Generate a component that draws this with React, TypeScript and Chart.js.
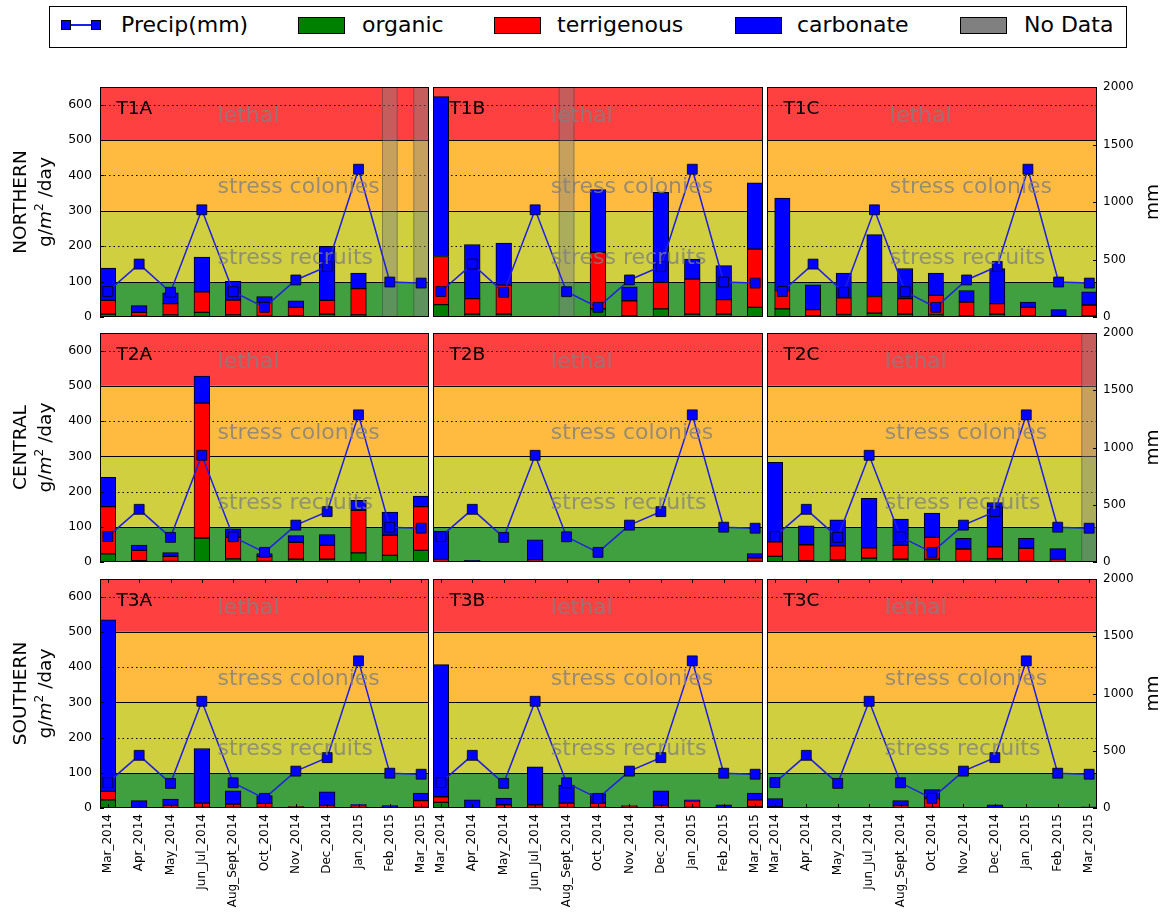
import React, { useEffect, useRef } from 'react';
import { Chart, registerables } from 'chart.js';

Chart.register(...registerables);
Chart.defaults.font.family = '"DejaVu Sans", sans-serif';

// ---------------- DATA ----------------
const categories = ['Mar_2014', 'Apr_2014', 'May_2014', 'Jun_Jul_2014', 'Aug_Sept_2014', 'Oct_2014', 'Nov_2014', 'Dec_2014', 'Jan_2015', 'Feb_2015', 'Mar_2015'];
const precipMm = [222, 460, 215, 932, 220, 84, 322, 440, 1285, 304, 295];

const t1aOrganic = [8, 2, 6, 13, 6, 2, 3, 8, 6, 0, 0];
const t1aTerrigenous = [39, 11, 32, 58, 42, 39, 24, 39, 74, 0, 0];
const t1aCarbonate = [91, 19, 30, 98, 53, 17, 19, 153, 44, 0, 0];
const t1aNoData = ['Feb_2015', 'Mar_2015'];

const t1bOrganic = [35, 8, 8, 2, 0, 23, 3, 23, 8, 8, 27];
const t1bTerrigenous = [136, 44, 82, 0, 0, 160, 43, 75, 99, 41, 165];
const t1bCarbonate = [452, 153, 119, 0, 0, 177, 39, 254, 57, 96, 187];
const t1bNoData = ['Aug_Sept_2014'];

const t1cOrganic = [23, 3, 7, 11, 8, 7, 2, 8, 2, 1, 3];
const t1cTerrigenous = [52, 18, 47, 47, 44, 54, 40, 30, 25, 1, 31];
const t1cCarbonate = [261, 70, 70, 175, 85, 63, 33, 99, 15, 19, 37];
const t1cNoData: string[] = [];

const t2aOrganic = [23, 4, 2, 68, 9, 2, 8, 8, 26, 19, 33];
const t2aTerrigenous = [134, 29, 14, 383, 61, 14, 48, 39, 121, 57, 124];
const t2aCarbonate = [83, 15, 11, 77, 24, 8, 19, 31, 28, 66, 30];
const t2aNoData: string[] = [];

const t2bOrganic = [1, 0, 0, 1, 0, 0, 1, 0, 0, 0, 2];
const t2bTerrigenous = [6, 0, 0, 4, 0, 0, 0, 0, 0, 0, 10];
const t2bCarbonate = [80, 5, 0, 58, 0, 0, 0, 0, 0, 0, 12];
const t2bNoData: string[] = [];

const t2cOrganic = [16, 3, 5, 11, 8, 8, 2, 9, 2, 1, 0];
const t2cTerrigenous = [41, 46, 41, 29, 39, 62, 35, 34, 37, 6, 0];
const t2cCarbonate = [226, 54, 74, 141, 75, 69, 30, 126, 28, 31, 0];
const t2cNoData = ['Mar_2015'];

const t3aOrganic = [23, 0, 1, 2, 2, 2, 3, 1, 2, 0, 2];
const t3aTerrigenous = [24, 0, 6, 12, 9, 11, 1, 6, 7, 1, 19];
const t3aCarbonate = [487, 21, 18, 155, 38, 22, 0, 39, 1, 6, 21];
const t3aNoData: string[] = [];

const t3bOrganic = [16, 0, 1, 2, 2, 2, 3, 1, 2, 0, 3];
const t3bTerrigenous = [16, 0, 8, 7, 12, 12, 2, 6, 18, 1, 20];
const t3bCarbonate = [375, 23, 19, 108, 51, 27, 2, 42, 3, 8, 19];
const t3bNoData: string[] = [];

const t3cOrganic = [3, 0, 0, 0, 1, 2, 0, 1, 0, 0, 1];
const t3cTerrigenous = [0, 0, 0, 0, 6, 25, 0, 0, 0, 0, 1];
const t3cCarbonate = [24, 1, 0, 1, 14, 25, 1, 8, 0, 0, 1];
const t3cNoData: string[] = [];

const regionNames = ['NORTHERN', 'CENTRAL', 'SOUTHERN'];
const zoneEdges = [0, 100, 300, 500, 650];
const zoneNames = ['stress recruits', 'stress colonies', 'lethal'];
const zoneNameY = [150, 350, 550];
const leftTicks = [0, 100, 200, 300, 400, 500, 600];
const rightTicks = [0, 500, 1000, 1500, 2000];

// ---------------- STYLE / LAYOUT ----------------
const FONT = '"DejaVu Sans", sans-serif';
const zoneColors = ['rgb(64,160,64)', 'rgb(207,207,64)', 'rgb(255,187,64)', 'rgb(255,64,64)'];
const plotLefts = [100, 433, 767];
const plotRights = [429, 763, 1097];
const plotTops = [87, 333, 579];
const plotBottoms = [317, 562, 808];
const PAD = 12;

type PanelSpec = {
  name: string; row: number; col: number;
  organic: number[]; terrigenous: number[]; carbonate: number[];
  noData: string[]; xMin: number;
};

const panels: PanelSpec[] = [
  { name: 'T1A', row: 0, col: 0, organic: t1aOrganic, terrigenous: t1aTerrigenous, carbonate: t1aCarbonate, noData: t1aNoData, xMin: -0.25 },
  { name: 'T1B', row: 0, col: 1, organic: t1bOrganic, terrigenous: t1bTerrigenous, carbonate: t1bCarbonate, noData: t1bNoData, xMin: -0.25 },
  { name: 'T1C', row: 0, col: 2, organic: t1cOrganic, terrigenous: t1cTerrigenous, carbonate: t1cCarbonate, noData: t1cNoData, xMin: -0.5 },
  { name: 'T2A', row: 1, col: 0, organic: t2aOrganic, terrigenous: t2aTerrigenous, carbonate: t2aCarbonate, noData: t2aNoData, xMin: -0.25 },
  { name: 'T2B', row: 1, col: 1, organic: t2bOrganic, terrigenous: t2bTerrigenous, carbonate: t2bCarbonate, noData: t2bNoData, xMin: -0.25 },
  { name: 'T2C', row: 1, col: 2, organic: t2cOrganic, terrigenous: t2cTerrigenous, carbonate: t2cCarbonate, noData: t2cNoData, xMin: -0.25 },
  { name: 'T3A', row: 2, col: 0, organic: t3aOrganic, terrigenous: t3aTerrigenous, carbonate: t3aCarbonate, noData: t3aNoData, xMin: -0.25 },
  { name: 'T3B', row: 2, col: 1, organic: t3bOrganic, terrigenous: t3bTerrigenous, carbonate: t3bCarbonate, noData: t3bNoData, xMin: -0.25 },
  { name: 'T3C', row: 2, col: 2, organic: t3cOrganic, terrigenous: t3cTerrigenous, carbonate: t3cCarbonate, noData: t3cNoData, xMin: -0.25 },
];

function drawRotated(ctx: CanvasRenderingContext2D, cx: number, cy: number, parts: { t: string; f: string; dy: number }[]) {
  ctx.save();
  ctx.translate(cx, cy);
  ctx.rotate(-Math.PI / 2);
  ctx.fillStyle = '#000';
  ctx.textBaseline = 'alphabetic';
  ctx.textAlign = 'left';
  let total = 0;
  for (const p of parts) { ctx.font = p.f; total += ctx.measureText(p.t).width; }
  let xx = -total / 2;
  for (const p of parts) { ctx.font = p.f; ctx.fillText(p.t, xx, p.dy); xx += ctx.measureText(p.t).width; }
  ctx.restore();
}

function Panel({ spec }: { spec: PanelSpec }) {
  const ref = useRef<HTMLCanvasElement | null>(null);
  const { row, col } = spec;
  const left = col === 0 ? 0 : plotLefts[col];
  const right = col === 2 ? 1162 : plotRights[col];
  const top = plotTops[row] - PAD;
  const bottom = row === 2 ? 915 : plotBottoms[row] + PAD;
  const w = right - left;
  const h = bottom - top;

  useEffect(() => {
    if (!ref.current) return;
    const xMax = 10.25;
    const plotW = plotRights[col] - plotLefts[col];
    const barPx = 0.5 * plotW / (xMax - spec.xMin);

    const deco = {
      id: 'deco' + spec.name,
      beforeDatasetsDraw(chart: any) {
        const { ctx, chartArea: a } = chart;
        const xs = chart.scales.x, ys = chart.scales.y;
        ctx.save();
        ctx.beginPath();
        ctx.rect(a.left, a.top, a.right - a.left, a.bottom - a.top);
        ctx.clip();
        for (let i = 0; i < 4; i++) {
          const y1 = ys.getPixelForValue(zoneEdges[i + 1]);
          const y0 = ys.getPixelForValue(zoneEdges[i]);
          ctx.fillStyle = zoneColors[i];
          ctx.fillRect(a.left, y1, a.right - a.left, y0 - y1);
        }
        ctx.strokeStyle = '#000';
        ctx.lineWidth = 1;
        ctx.setLineDash([1.5, 3]);
        for (const v of [200, 400, 600]) {
          const py = Math.round(ys.getPixelForValue(v)) + 0.5;
          ctx.beginPath(); ctx.moveTo(a.left, py); ctx.lineTo(a.right, py); ctx.stroke();
        }
        ctx.setLineDash([]);
        for (const v of [100, 300, 500]) {
          const py = Math.round(ys.getPixelForValue(v)) + 0.5;
          ctx.beginPath(); ctx.moveTo(a.left, py); ctx.lineTo(a.right, py); ctx.stroke();
        }
        for (const lab of spec.noData) {
          const i = categories.indexOf(lab);
          const p0 = xs.getPixelForValue(i - 0.25);
          const p1 = xs.getPixelForValue(i + 0.25);
          ctx.fillStyle = 'rgba(128,128,128,0.45)';
          ctx.fillRect(p0, a.top, p1 - p0, a.bottom - a.top);
          ctx.strokeStyle = 'rgba(0,0,0,0.25)';
          ctx.strokeRect(p0 + 0.5, a.top, p1 - p0 - 1, a.bottom - a.top);
        }
        ctx.restore();
      },
      afterDatasetsDraw(chart: any) {
        const { ctx, chartArea: a } = chart;
        const xs = chart.scales.x, ys = chart.scales.y, y2 = chart.scales.y2;
        const aw = a.right - a.left, ah = a.bottom - a.top;
        ctx.save();
        ctx.font = '22px ' + FONT;
        ctx.fillStyle = 'rgba(128,128,128,0.8)';
        ctx.textAlign = 'left';
        ctx.textBaseline = 'alphabetic';
        zoneNames.forEach((t, i) => {
          ctx.fillText(t, xs.getPixelForValue(3.5), ys.getPixelForValue(zoneNameY[i]));
        });
        ctx.font = '18.5px ' + FONT;
        ctx.fillStyle = '#000';
        ctx.fillText(spec.name, a.left + 0.05 * aw, a.bottom - 0.883 * ah);
        ctx.strokeStyle = '#000';
        ctx.lineWidth = 1;
        ctx.strokeRect(a.left + 0.5, a.top + 0.5, aw - 1, ah - 1);
        ctx.beginPath();
        if (row === 2) {
          for (let i = 0; i < categories.length; i++) {
            const px = Math.round(xs.getPixelForValue(i)) + 0.5;
            ctx.moveTo(px, a.top); ctx.lineTo(px, a.top + 4);
            ctx.moveTo(px, a.bottom); ctx.lineTo(px, a.bottom - 4);
          }
        }
        if (col === 0) {
          for (const v of leftTicks) {
            const py = Math.round(ys.getPixelForValue(v)) + 0.5;
            ctx.moveTo(a.left, py); ctx.lineTo(a.left + 4, py);
          }
        }
        if (col === 2) {
          for (const v of rightTicks) {
            const py = Math.round(y2.getPixelForValue(v)) + 0.5;
            ctx.moveTo(a.right, py); ctx.lineTo(a.right - 4, py);
          }
        }
        ctx.stroke();
        ctx.restore();
        const cy = (a.top + a.bottom) / 2;
        if (col === 0) {
          drawRotated(ctx, a.left - 74.5, cy, [{ t: regionNames[row], f: '18.5px ' + FONT, dy: 0 }]);
          drawRotated(ctx, a.left - 49, cy, [
            { t: 'g/', f: '18.5px ' + FONT, dy: 0 },
            { t: 'm', f: 'italic 18.5px ' + FONT, dy: 0 },
            { t: '2', f: '12px ' + FONT, dy: -8 },
            { t: ' /day', f: '18.5px ' + FONT, dy: 0 },
          ]);
        }
        if (col === 2) {
          drawRotated(ctx, a.right + 61, cy, [{ t: 'mm', f: '18.5px ' + FONT, dy: 0 }]);
        }
      },
    };

    const mk = (arr: number[]) => arr.map((v, i) => ({ x: i, y: v }));
    const barBase = {
      type: 'bar' as const,
      borderColor: '#000',
      borderWidth: 1,
      borderSkipped: false,
      yAxisID: 'y',
      xAxisID: 'x',
      order: 1,
      stack: 's',
      barThickness: barPx,
    };

    const chart = new Chart(ref.current, {
      type: 'bar',
      data: {
        datasets: [
          { ...barBase, label: 'organic', data: mk(spec.organic), backgroundColor: '#008000' },
          { ...barBase, label: 'terrigenous', data: mk(spec.terrigenous), backgroundColor: '#ff0000' },
          { ...barBase, label: 'carbonate', data: mk(spec.carbonate), backgroundColor: '#0000ff' },
          {
            type: 'line', label: 'Precip(mm)', data: mk(precipMm), yAxisID: 'y2', xAxisID: 'x', order: 0,
            borderColor: 'rgb(30,30,230)', borderWidth: 1.5, tension: 0,
            pointStyle: 'rect', pointRadius: 7, pointBackgroundColor: '#0000ff',
            pointBorderColor: '#000', pointBorderWidth: 0.8,
          } as any,
        ],
      },
      options: {
        animation: false,
        responsive: false,
        devicePixelRatio: 1,
        events: [],
        layout: { padding: { top: PAD, bottom: row === 2 ? 0 : PAD, left: 0, right: 0 }, autoPadding: false },
        plugins: { legend: { display: false }, tooltip: { enabled: false } },
        scales: {
          x: {
            type: 'linear', min: spec.xMin, max: xMax, stacked: true, offset: false,
            display: row === 2,
            grid: { display: false, drawTicks: false }, border: { display: false },
            afterBuildTicks: (s: any) => { s.ticks = categories.map((_, i) => ({ value: i })); },
            afterFit: row === 2 ? (s: any) => { s.height = 915 - plotBottoms[2]; s.paddingLeft = 0; s.paddingRight = 0; } : undefined,
            ticks: {
              autoSkip: false, minRotation: 90, maxRotation: 90, padding: 6, color: '#000',
              font: { size: 12, family: FONT },
              callback: (v: any) => categories[Math.round(Number(v))] ?? '',
            },
          },
          y: {
            type: 'linear', min: 0, max: 650, stacked: true, position: 'left',
            display: col === 0,
            grid: { display: false, drawTicks: false }, border: { display: false },
            afterFit: col === 0 ? (s: any) => { s.width = plotLefts[0]; s.paddingTop = 0; s.paddingBottom = 0; } : undefined,
            ticks: { stepSize: 100, includeBounds: false, padding: 8, color: '#000', font: { size: 12.5, family: FONT }, callback: (v: any) => String(v) },
          },
          y2: {
            type: 'linear', min: 0, max: 2000, position: 'right',
            display: col === 2,
            grid: { display: false, drawTicks: false }, border: { display: false },
            afterFit: col === 2 ? (s: any) => { s.width = 1162 - plotRights[2]; s.paddingTop = 0; s.paddingBottom = 0; } : undefined,
            ticks: { stepSize: 500, includeBounds: false, padding: 6, color: '#000', font: { size: 12, family: FONT }, callback: (v: any) => String(v) },
          },
        } as any,
      },
      plugins: [deco],
    } as any);
    return () => chart.destroy();
  }, []);

  return (
    <canvas
      ref={ref}
      width={w}
      height={h}
      style={{ position: 'absolute', left, top, width: w, height: h }}
    />
  );
}

function Legend() {
  const txt = (s: string, x: number) => (
    <div style={{ position: 'absolute', left: x, top: 14, fontFamily: FONT, fontSize: 22, lineHeight: '22px', whiteSpace: 'nowrap', color: '#000' }}>{s}</div>
  );
  const patch = (x: number, color: string) => (
    <div style={{ position: 'absolute', left: x, top: 17, width: 47, height: 17, background: color, border: '1px solid #000', boxSizing: 'border-box' }} />
  );
  return (
    <>
      <div style={{ position: 'absolute', left: 49, top: 6, width: 1078, height: 42, border: '1.5px solid #000', boxSizing: 'border-box', background: '#fff' }} />
      <div style={{ position: 'absolute', left: 63, top: 24, width: 36, height: 1.5, background: 'rgb(30,30,230)' }} />
      <div style={{ position: 'absolute', left: 61, top: 20, width: 10, height: 10, background: '#0000ff', border: '0.8px solid #000', boxSizing: 'border-box' }} />
      <div style={{ position: 'absolute', left: 91, top: 20, width: 10, height: 10, background: '#0000ff', border: '0.8px solid #000', boxSizing: 'border-box' }} />
      {txt('Precip(mm)', 121)}
      {patch(298, '#008000')}
      {txt('organic', 362)}
      {patch(494, '#ff0000')}
      {txt('terrigenous', 557)}
      {patch(735, '#0000ff')}
      {txt('carbonate', 797)}
      {patch(960, '#808080')}
      {txt('No Data', 1024)}
    </>
  );
}

export default function App() {
  return (
    <div style={{ position: 'absolute', left: 0, top: 0, width: 1162, height: 915, background: '#fff', overflow: 'hidden' }}>
      <Legend />
      {panels.map((p) => <Panel key={p.name} spec={p} />)}
    </div>
  );
}
